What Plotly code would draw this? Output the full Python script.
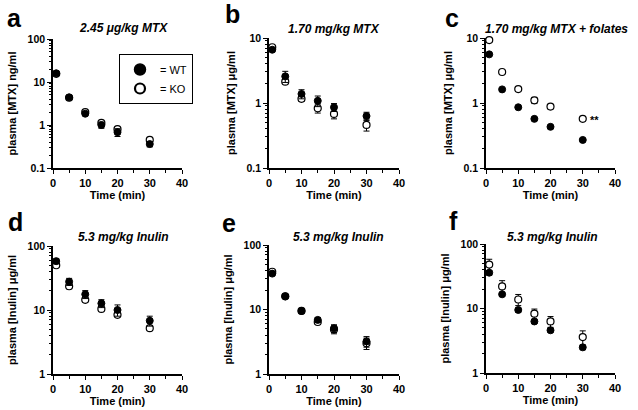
import math
import plotly.graph_objects as go

W, H = 638, 410
FONT = "Liberation Sans"

# ---------------- data ----------------
time_min = [1, 5, 10, 15, 20, 30]

# panel a: 2.45 ug/kg MTX (ng/ml)
a_wt = [15.9, 4.4, 1.83, 1.0, 0.68, 0.36]
a_wt_err = [0.8, 0.3, 0.15, 0.16, 0.14, 0.05]
a_ko = [15.5, 4.3, 2.0, 1.12, 0.80, 0.45]
a_ko_err = [0.8, 0.2, 0.1, 0.08, 0.06, 0.04]

# panel b: 1.70 mg/kg MTX (ug/ml)
b_wt = [6.6, 2.57, 1.38, 1.08, 0.86, 0.63]
b_wt_err = [0.35, 0.5, 0.22, 0.2, 0.12, 0.09]
b_ko = [7.2, 2.13, 1.16, 0.83, 0.68, 0.46]
b_ko_err = [0.3, 0.15, 0.1, 0.13, 0.11, 0.09]

# panel c: 1.70 mg/kg MTX + folates (ug/ml)
c_wt = [5.6, 1.62, 0.86, 0.57, 0.43, 0.27]
c_wt_err = [0.2, 0.05, 0.03, 0.02, 0.02, 0.01]
c_ko = [9.3, 3.0, 1.64, 1.10, 0.88, 0.57]
c_ko_err = [0.6, 0.15, 0.08, 0.12, 0.07, 0.02]

# panel d: 5.3 mg/kg Inulin (ug/ml)
d_wt = [58, 27.7, 17.6, 12.7, 10.0, 6.8]
d_wt_err = [5, 3.5, 2.5, 1.8, 2.0, 1.2]
d_ko = [50, 23.5, 14.4, 10.4, 8.4, 5.2]
d_ko_err = [3, 2, 1, 0.7, 0.5, 0.4]

# panel e: 5.3 mg/kg Inulin (ug/ml)
e_wt = [36, 16, 9.5, 6.9, 5.1, 3.2]
e_wt_err = [2, 0.8, 0.5, 0.6, 0.7, 0.6]
e_ko = [38.5, 16, 9.5, 6.4, 4.9, 3.0]
e_ko_err = [2, 0.8, 0.5, 0.5, 0.7, 0.6]

# panel f: 5.3 mg/kg Inulin (ug/ml)
f_wt = [35.9, 16.6, 9.5, 6.3, 4.6, 2.5]
f_wt_err = [3, 1.2, 0.7, 0.4, 0.3, 0.2]
f_ko = [48, 22, 13.8, 8.3, 6.3, 3.6]
f_ko_err = [10, 5, 2.7, 1.5, 1.2, 0.9]

panel_letters = ["a", "b", "c", "d", "e", "f"]
panel_titles = ["2.45 μg/kg MTX", "1.70 mg/kg MTX", "1.70 mg/kg MTX + folates",
                "5.3 mg/kg Inulin", "5.3 mg/kg Inulin", "5.3 mg/kg Inulin"]
y_titles = ["plasma [MTX] ng/ml", "plasma [MTX] μg/ml", "plasma [MTX] μg/ml",
            "plasma [Inulin] μg/ml", "plasma [Inulin] μg/ml", "plasma [Inulin] μg/ml"]
y_ranges = [(0.1, 100), (0.1, 10), (0.1, 10), (1, 100), (1, 100), (1, 100)]
x_title = "Time (min)"
x_ticks = [0, 10, 20, 30, 40]
legend_names = ["= WT", "= KO"]

panels = [
    (a_wt, a_wt_err, a_ko, a_ko_err),
    (b_wt, b_wt_err, b_ko, b_ko_err),
    (c_wt, c_wt_err, c_ko, c_ko_err),
    (d_wt, d_wt_err, d_ko, d_ko_err),
    (e_wt, e_wt_err, e_ko, e_ko_err),
    (f_wt, f_wt_err, f_ko, f_ko_err),
]

# pixel boxes (left, right, top, bottom)
boxes = [
    (53, 182, 39, 168), (269, 399, 38, 168), (486, 615, 38, 168),
    (53, 182, 246, 374), (269, 399, 245, 374), (486, 615, 244, 373),
]
letter_pos = [(14, 18), (232, 14), (452, 18), (15, 222), (229, 223), (453, 221)]
title_pos = [(123, 28), (334, 29), (556, 29), (124, 237), (338, 237), (552, 237)]

fig = go.Figure()
layout = dict(width=W, height=H, margin=dict(l=0, r=0, t=0, b=0, autoexpand=False),
              paper_bgcolor="white", plot_bgcolor="white", showlegend=True)
annotations = []

for i, (wt, wte, ko, koe) in enumerate(panels):
    n = i + 1
    xa = "x" if n == 1 else f"x{n}"
    ya = "y" if n == 1 else f"y{n}"
    L, R, T, B = boxes[i]
    xkey = "xaxis" if n == 1 else f"xaxis{n}"
    ykey = "yaxis" if n == 1 else f"yaxis{n}"
    lo, hi = y_ranges[i]
    layout[xkey] = dict(
        domain=[L / W, R / W], anchor=ya, range=[0, 40], automargin=False,
        tickmode="array", tickvals=x_ticks, ticktext=[str(v) for v in x_ticks],
        ticks="outside", ticklen=4, tickwidth=1.3, tickcolor="black",
        minor=dict(ticks="outside", ticklen=3, tickwidth=1.2, tickcolor="black",
                   tickvals=[5, 15, 25, 35]),
        showline=True, linecolor="black", linewidth=1.5,
        showgrid=False, zeroline=False,
        tickfont=dict(family=FONT, size=11, color="black", weight="bold"),
        title=dict(text=x_title, standoff=1,
                   font=dict(family=FONT, size=11, color="black", weight="bold")),
    )
    elo, ehi = int(round(math.log10(lo))), int(round(math.log10(hi)))
    majors = [10 ** e for e in range(elo, ehi + 1)]
    minors = [k * 10 ** e for e in range(elo, ehi) for k in range(2, 10)]
    layout[ykey] = dict(
        domain=[1 - B / H, 1 - T / H], anchor=xa, type="log", automargin=False,
        range=[elo, ehi],
        tickmode="array", tickvals=majors,
        ticktext=[("%g" % v) for v in majors],
        ticks="outside", ticklen=4, tickwidth=1.3, tickcolor="black",
        minor=dict(ticks="outside", ticklen=2, tickwidth=1, tickcolor="black",
                   tickvals=minors),
        showline=True, linecolor="black", linewidth=1.5,
        showgrid=False, zeroline=False,
        tickfont=dict(family=FONT, size=10.5, color="black", weight="bold"),
        title=dict(text=y_titles[i], standoff=9,
                   font=dict(family=FONT, size=11, color="black", weight="bold")),
    )
    # KO (open) first, WT (filled) on top
    fig.add_trace(go.Scatter(
        x=time_min, y=ko, xaxis=xa, yaxis=ya, mode="markers", showlegend=False,
        marker=dict(symbol="circle", size=7, color="white",
                    line=dict(color="black", width=1.2)),
        error_y=dict(type="data", array=koe, color="black", thickness=1, width=3),
        cliponaxis=False,
    ))
    fig.add_trace(go.Scatter(
        x=time_min, y=wt, xaxis=xa, yaxis=ya, mode="markers", showlegend=False,
        marker=dict(symbol="circle", size=7, color="black",
                    line=dict(color="black", width=1)),
        error_y=dict(type="data", array=wte, color="black", thickness=1, width=3),
        cliponaxis=False,
    ))
    lx, ly = letter_pos[i]
    annotations.append(dict(text=panel_letters[i], x=lx / W, y=1 - ly / H,
                            xref="paper", yref="paper", showarrow=False,
                            xanchor="center", yanchor="middle",
                            font=dict(family=FONT, size=25, color="black", weight="bold")))
    tx, ty = title_pos[i]
    annotations.append(dict(text=panel_titles[i], x=tx / W, y=1 - ty / H,
                            xref="paper", yref="paper", showarrow=False,
                            xanchor="center", yanchor="middle",
                            font=dict(family=FONT, size=12, color="black",
                                      weight="bold", style="italic")))

# significance marker in panel c
annotations.append(dict(text="**", x=33.5, y=math.log10(c_ko[-1]) - 0.02,
                        xref="x3", yref="y3", showarrow=False,
                        xanchor="center", yanchor="middle",
                        font=dict(family=FONT, size=11, color="black", weight="bold")))

# legend entries (legend-only traces)
fig.add_trace(go.Scatter(x=[None], y=[None], mode="markers", name=legend_names[0],
                         marker=dict(symbol="circle", size=11, color="black",
                                     line=dict(color="black", width=1.5))))
fig.add_trace(go.Scatter(x=[None], y=[None], mode="markers", name=legend_names[1],
                         marker=dict(symbol="circle", size=10, color="white",
                                     line=dict(color="black", width=2.2))))

layout["legend"] = dict(x=119 / W, y=1 - 54 / H, xanchor="left", yanchor="top",
                        bordercolor="black", borderwidth=1, bgcolor="white",
                        font=dict(family=FONT, size=11, color="black"),
                        itemwidth=30, tracegroupgap=0)
layout["annotations"] = annotations
fig.update_layout(**layout)
fig.write_html("out.html",
               config={"displayModeBar": False},
               post_script="document.body.style.margin='0';document.body.style.overflow='hidden';")
